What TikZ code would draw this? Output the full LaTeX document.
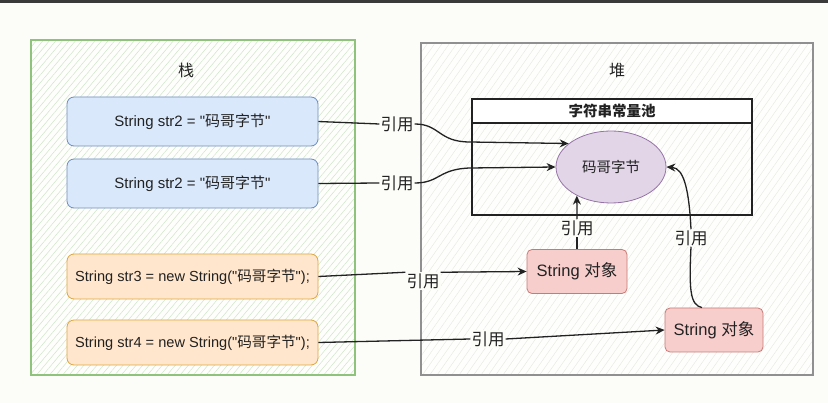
\documentclass[tikz,border=0pt]{standalone}
\usepackage{fontspec}
\setmainfont{Liberation Sans}[Ligatures=TeXOff]
\newfontfamily\cjk{Noto Sans CJK SC}
\usetikzlibrary{patterns.meta,arrows.meta,shapes.geometric}
\definecolor{bg}{HTML}{FCFDF8}
\definecolor{topbar}{HTML}{3A3A3A}
\definecolor{gstroke}{HTML}{8FC27A}
\definecolor{ghatch}{HTML}{CFE5C9}
\definecolor{hstroke}{HTML}{909090}
\definecolor{hhatch}{HTML}{E6E6E2}
\definecolor{bfill}{HTML}{DAE8FC}
\definecolor{bstroke}{HTML}{6C8EBF}
\definecolor{ofill}{HTML}{FFE6CC}
\definecolor{ostroke}{HTML}{E0A63A}
\definecolor{pfill}{HTML}{F8CECC}
\definecolor{pstroke}{HTML}{C97A76}
\definecolor{efill}{HTML}{E1D5E7}
\definecolor{estroke}{HTML}{9673A6}
\definecolor{ink}{HTML}{222222}
\tikzset{
  codebox/.style={rounded corners=7pt, line width=0.8pt, minimum width=251pt, inner sep=0pt, text=ink, font=\fontsize{15}{18}\selectfont},
  bluebox/.style={codebox, draw=bstroke, fill=bfill, minimum height=49pt},
  orangebox/.style={codebox, draw=ostroke, fill=ofill, minimum height=45pt, font=\fontsize{14.6}{18}\selectfont},
  objbox/.style={rounded corners=5pt, line width=0.8pt, draw=pstroke, fill=pfill, minimum height=44pt, inner sep=0pt, text=ink, font=\fontsize{16.5}{19}\selectfont},
  lab/.style={fill=bg, inner sep=1pt, text=ink, font=\cjk\fontsize{16.5}{19}\selectfont},
  conn/.style={draw=ink, line width=1.3pt},
  tip/.style={-{Stealth[length=9pt,width=8pt,inset=3pt]}},
  title/.style={text=ink, font=\cjk\fontsize{16}{18}\selectfont}
}
\begin{document}
\begin{tikzpicture}[x=1pt,y=-1pt]
\useasboundingbox (0,0) rectangle (828,403);
\fill[bg] (0,0) rectangle (828,403);
\fill[topbar] (0,0) rectangle (828,3);
% stack
\fill[white!60!bg] (31,40) rectangle (355,375);
\path[pattern={Lines[angle=50,distance=5pt,line width=0.5pt]}, pattern color=ghatch] (31,40) rectangle (355,375);
\draw[gstroke, line width=1.2pt] (31,40) rectangle (355,375);
\node[title] (stt) at (186,70) {栈};
% heap
\fill[white!60!bg] (421,43) rectangle (813,375);
\path[pattern={Lines[angle=55,distance=6pt,line width=0.4pt]}, pattern color=hhatch] (421,43) rectangle (813,375);
\draw[hstroke, line width=1.5pt] (421,43) rectangle (813,375);
\node[title] (htt) at (617,70) {堆};
% constant pool
\node[draw=ink, line width=1.3pt, minimum width=280pt, minimum height=116pt, inner sep=0pt] (pool) at (612,157) {};
\node[draw=ink, fill=white, line width=1.3pt, minimum width=280pt, minimum height=24pt, inner sep=0pt, text=ink, font=\cjk\bfseries\fontsize{14.5}{17}\selectfont] (poolh) at (612,111) {字符串常量池};
\node[ellipse, draw=estroke, fill=efill, line width=0.8pt, minimum width=110pt, minimum height=72pt, inner sep=0pt, text=ink, font=\cjk\fontsize{14.5}{17}\selectfont] (e) at (611,167) {码哥字节};
% stack entries
\node[bluebox] (b1) at (192.5,121.5) {String str2 = "{\cjk 码哥字节}"};
\node[bluebox] (b2) at (192.5,183.5) {String str2 = "{\cjk 码哥字节}"};
\node[orangebox] (o1) at (192.5,276.5) {String str3 = new String("{\cjk 码哥字节}");};
\node[orangebox] (o2) at (192.5,342.5) {String str4 = new String("{\cjk 码哥字节}");};
% objects
\node[objbox, minimum width=100pt] (p1) at (577,271.5) {String {\cjk 对象}};
\node[objbox, minimum width=98pt] (p2) at (714,330) {String {\cjk 对象}};
% labels
\node[lab] (l1) at (397,124) {引用};
\node[lab] (l2) at (397,183) {引用};
\node[lab] (l3) at (423,281) {引用};
\node[lab] (l4) at (488,339) {引用};
\node[lab] (l5) at (577,228) {引用};
\node[lab] (l6) at (691,238) {引用};
% connectors
\draw[conn] (b1.east) -- (l1.west);
\draw[conn,tip] (l1.east) .. controls (440,124) and (438,142) .. (470,142) -- (e.151);
\draw[conn] (b2.east) -- (l2.west);
\draw[conn,tip] (l2.east) .. controls (440,183) and (438,169) .. (470,168) -- (e.west);
\draw[conn] (o1.east) -- (l3.north west);
\draw[conn,tip] (l3.north east) -- (p1.west);
\draw[conn] (o2.east) -- (l4.west);
\draw[conn,tip] (l4.east) -- (p2.west);
\draw[conn] (p1.north) -- (l5.south);
\draw[conn,tip] (l5.north) -- (e.220);
\draw[conn] ([xshift=-12pt]p2.north) .. controls (690,305) and (689,290) .. (l6.south);
\draw[conn,tip] (l6.north) .. controls (689,190) and (684,168) .. (e.east);
\end{tikzpicture}
\end{document}
